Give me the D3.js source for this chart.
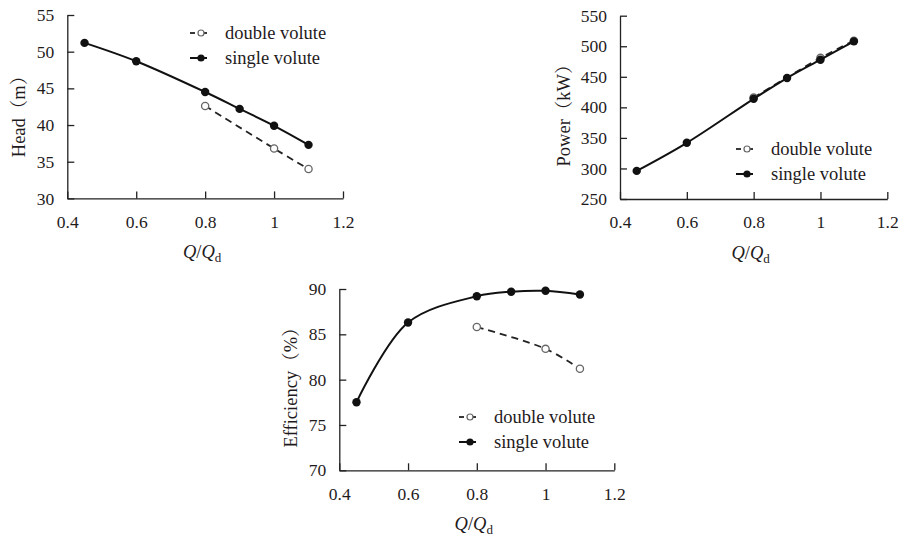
<!DOCTYPE html>
<html>
<head>
<meta charset="utf-8">
<script src="https://cdn.jsdelivr.net/npm/d3@7"></script>
<style>
  html, body { margin: 0; padding: 0; background: #fff; }
  svg { display: block; }
  text { font-family: "Liberation Serif", "Times New Roman", "Noto Serif CJK SC", "Noto Sans CJK SC", serif; fill: #1f1b1c; }
</style>
</head>
<body>
<svg id="chart" width="901" height="536"></svg>
<script>
// Flow ratio Q/Qd for each measured operating point
const qSingle = [0.45, 0.6, 0.8, 0.9, 1.0, 1.1];
const qDouble = [0.8, 1.0, 1.1];

// Head (m)
const headSingle = [51.2, 48.7, 44.5, 42.2, 39.9, 37.3];
const headDouble = [42.6, 36.8, 34.0];

// Shaft power (kW)
const powerSingle = [296, 342, 414, 448, 478, 508];
const powerDouble = [416, 481, 509];

// Efficiency (%)
const effSingle = [77.5, 86.3, 89.2, 89.7, 89.8, 89.4];
const effDouble = [85.8, 83.4, 81.2];

// Axis ticks
const xTicks = [0.4, 0.6, 0.8, 1.0, 1.2];
const headTicks = [30, 35, 40, 45, 50, 55];
const powerTicks = [250, 300, 350, 400, 450, 500, 550];
const effTicks = [70, 75, 80, 85, 90];

const seriesNames = ["double volute", "single volute"];

const svg = d3.select("#chart");
const INK = "#1f1b1c";
const SERIF = "'Liberation Serif', 'Times New Roman', serif";
const TICK_FONT = 17.5;
const LABEL_FONT = 18.5;

function drawPanel(opt) {
  const x = d3.scaleLinear().domain([0.4, 1.2]).range([opt.left, opt.right]);
  const y = d3.scaleLinear().domain(opt.yDomain).range([opt.bottom, opt.top]);
  const g = svg.append("g");

  // x axis, ticks pointing into the plot
  const xa = g.append("g")
    .attr("transform", `translate(0,${opt.bottom})`)
    .call(d3.axisBottom(x).tickValues(xTicks)
      .tickFormat(d => d3.format("~g")(d))
      .tickSizeInner(-7).tickSizeOuter(0).tickPadding(17));
  // y axis, ticks pointing into the plot
  const ya = g.append("g")
    .attr("transform", `translate(${opt.left},0)`)
    .call(d3.axisLeft(y).tickValues(opt.yTicks)
      .tickSizeInner(-7).tickSizeOuter(0).tickPadding(13));
  [xa, ya].forEach(a => {
    a.attr("font-family", SERIF).attr("font-size", TICK_FONT);
    a.select(".domain").attr("stroke", "#222").attr("stroke-width", 1.3);
    a.selectAll(".tick line").attr("stroke", "#222").attr("stroke-width", 1.3);
    a.selectAll(".tick text")
      .style("font-family", SERIF)
      .attr("font-size", TICK_FONT).attr("fill", INK);
  });

  // axis titles
  const xt = g.append("text")
    .attr("x", (opt.left + opt.right) / 2 - 3)
    .attr("y", opt.bottom + 60)
    .attr("text-anchor", "middle")
    .attr("font-size", LABEL_FONT);
  xt.append("tspan").attr("font-style", "italic").text("Q");
  xt.append("tspan").text("/");
  xt.append("tspan").attr("font-style", "italic").text("Q");
  xt.append("tspan").attr("font-size", 13).attr("dy", 4).text("d");

  g.append("text")
    .attr("transform", `translate(${opt.titleX},${opt.titleY}) rotate(-90)`)
    .attr("text-anchor", "middle")
    .attr("font-size", LABEL_FONT)
    .text(opt.yTitle);

  const line = d3.line().x(d => x(d[0])).y(d => y(d[1])).curve(d3.curveCatmullRom.alpha(0.5));
  const single = qSingle.map((q, i) => [q, opt.single[i]]);
  const dbl = qDouble.map((q, i) => [q, opt.double[i]]);

  // double volute: dashed line with open markers
  g.append("path").datum(dbl)
    .attr("d", line).attr("fill", "none")
    .attr("stroke", "#222").attr("stroke-width", 1.8)
    .attr("stroke-dasharray", "7,5");
  g.selectAll(".dbl").data(dbl).enter().append("circle")
    .attr("cx", d => x(d[0])).attr("cy", d => y(d[1])).attr("r", 3.6)
    .attr("fill", "#fff").attr("stroke", "#666").attr("stroke-width", 1.3);

  // single volute: solid line with filled markers
  g.append("path").datum(single)
    .attr("d", line).attr("fill", "none")
    .attr("stroke", "#111").attr("stroke-width", 2);
  g.selectAll(".sgl").data(single).enter().append("circle")
    .attr("cx", d => x(d[0])).attr("cy", d => y(d[1])).attr("r", 4.2)
    .attr("fill", "#111");

  // legend
  const lg = g.append("g");
  const rows = [opt.legY, opt.legY + 25];
  seriesNames.forEach((name, i) => {
    const ry = rows[i];
    const lx0 = opt.legX, lx1 = opt.legX + 17, mx = opt.legX + 11;
    if (i === 0) {
      lg.append("line").attr("x1", lx0).attr("x2", lx0 + 5).attr("y1", ry).attr("y2", ry)
        .attr("stroke", "#222").attr("stroke-width", 1.8);
      lg.append("line").attr("x1", mx).attr("x2", lx1).attr("y1", ry).attr("y2", ry)
        .attr("stroke", "#222").attr("stroke-width", 1.8);
      lg.append("circle").attr("cx", mx).attr("cy", ry).attr("r", 3)
        .attr("fill", "#fff").attr("stroke", "#666").attr("stroke-width", 1.2);
    } else {
      lg.append("line").attr("x1", lx0).attr("x2", lx1).attr("y1", ry).attr("y2", ry)
        .attr("stroke", "#111").attr("stroke-width", 2);
      lg.append("circle").attr("cx", mx).attr("cy", ry).attr("r", 3.6).attr("fill", "#111");
    }
    lg.append("text").attr("x", opt.legX + 35).attr("y", ry + 6)
      .attr("font-size", LABEL_FONT).text(name);
  });
}

drawPanel({
  left: 67.3, right: 343, top: 15, bottom: 198.4,
  yDomain: [30, 55], yTicks: headTicks,
  single: headSingle, double: headDouble,
  yTitle: "Head（m）", titleX: 25, titleY: 112,
  legX: 190, legY: 33
});

drawPanel({
  left: 620, right: 887.3, top: 15.7, bottom: 199,
  yDomain: [250, 550], yTicks: powerTicks,
  single: powerSingle, double: powerDouble,
  yTitle: "Power（kW）", titleX: 570, titleY: 111,
  legX: 736, legY: 149
});

drawPanel({
  left: 339.3, right: 614.3, top: 289, bottom: 470.3,
  yDomain: [70, 90], yTicks: effTicks,
  single: effSingle, double: effDouble,
  yTitle: "Efficiency（%）", titleX: 297, titleY: 383,
  legX: 459, legY: 417
});
</script>
</body>
</html>
